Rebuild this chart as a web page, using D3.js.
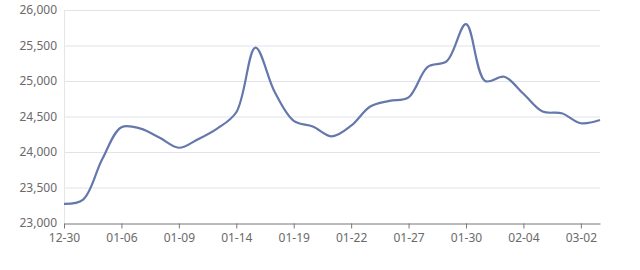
<!DOCTYPE html>
<html><head><meta charset="utf-8">
<script src="https://cdn.jsdelivr.net/npm/d3@7/dist/d3.min.js"></script>
<style>body{margin:0;background:#fff;}svg{display:block;font-family:"Microsoft YaHei","Noto Sans",sans-serif;}</style>
</head><body>
<svg id="c" width="640" height="270"></svg>
<script>
const categories = ["12-30","12-31","01-03","01-06","01-07","01-08","01-09","01-10","01-13","01-14","01-15","01-16","01-19","01-20","01-21","01-22","01-23","01-24","01-27","01-28","01-29","01-30","01-31","02-03","02-04","02-05","02-06","03-02","03-03"];
const values = [23270,23330,23900,24350,24330,24200,24060,24180,24330,24560,25470,24850,24440,24360,24220,24370,24640,24720,24770,25200,25280,25800,25000,25060,24820,24570,24545,24405,24450];
const yTicks = [23000,23500,24000,24500,25000,25500,26000];
const labelEvery = 3;

const svg = d3.select("#c");
const m = {l:64, r:600, t:10, b:223};
const x = d3.scalePoint().domain(categories).range([m.l, m.r]);
const y = d3.scaleLinear().domain([23000,26000]).range([m.b, m.t]);

svg.append("g").selectAll("line").data(yTicks.slice(1)).join("line")
  .attr("x1", m.l).attr("x2", m.r)
  .attr("y1", d=>y(d)+0.5).attr("y2", d=>y(d)+0.5)
  .attr("stroke", "#e0e3ea").attr("stroke-width", 1);
svg.append("line").attr("x1", m.l+0.5).attr("x2", m.l+0.5).attr("y1", m.t).attr("y2", m.b)
  .attr("stroke", "#e6e6e6");

svg.append("g").selectAll("text").data(yTicks).join("text")
  .attr("x", m.l-7).attr("y", d=>y(d)).attr("dy","0.35em")
  .attr("text-anchor","end").attr("font-size", 12).attr("fill","#6a6a6a")
  .text(d=>d3.format(",")(d));

const shown = categories.filter((c,i)=>i%labelEvery===0);
const xAxis = d3.axisBottom(x).tickValues(shown).tickSize(5).tickSizeOuter(0);
const gx = svg.append("g").attr("transform",`translate(0,${m.b+0.5})`).call(xAxis);
gx.select(".domain").attr("stroke","#777");
gx.selectAll(".tick line").attr("stroke","#777");
gx.selectAll(".tick text").attr("font-size",12).attr("fill","#6a6a6a").attr("dy","0.9em")
  .style("font-family",'"Microsoft YaHei","Noto Sans",sans-serif');

const line = d3.line().x((d,i)=>x(categories[i])).y(d=>y(d)).curve(d3.curveCatmullRom.alpha(0.5));
svg.append("path").datum(values).attr("d", line)
  .attr("fill","none").attr("stroke","#6478ab").attr("stroke-width",2.2);
</script>
</body></html>
